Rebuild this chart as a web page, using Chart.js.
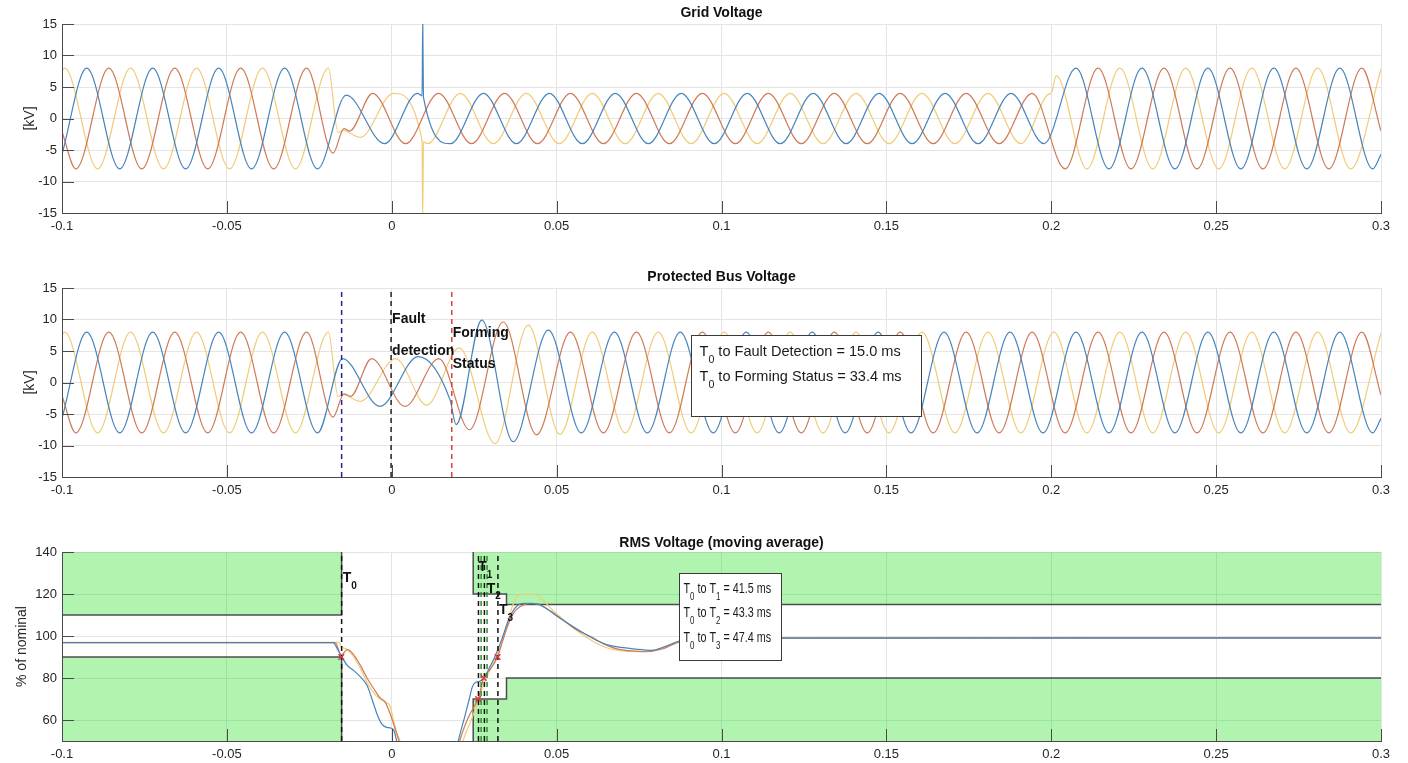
<!DOCTYPE html>
<html>
<head>
<meta charset="utf-8">
<title>Grid / Protected Bus / RMS Voltage</title>
<script src="https://cdn.jsdelivr.net/npm/chart.js@4.4.1/dist/chart.umd.min.js"></script>
<style>
    html, body { margin: 0; padding: 0; background: #fff; }
    #page { position: relative; width: 1408px; height: 763px; overflow: hidden; }
    #page canvas { position: absolute; left: 0; }
</style>
</head>
<body>
<div id="page">
    <canvas id="chart-grid" width="1408" height="240" style="top:0px"></canvas>
    <canvas id="chart-bus" width="1408" height="240" style="top:264px"></canvas>
    <canvas id="chart-rms" width="1408" height="235" style="top:528px"></canvas>
</div>
<script>
// ---- data ----
const timeTicks = [-0.1, -0.05, 0, 0.05, 0.1, 0.15, 0.2, 0.25, 0.3];
const kvTicks = [-15, -10, -5, 0, 5, 10, 15];
const rmsTicks = [60, 80, 100, 120, 140];

// phase voltages: [time s, kV] at each peak / trough, the library draws the curve between them
const preFaultA = [[-0.1, -5.7], [-0.0925, 8], [-0.0825, -8], [-0.0725, 8], [-0.0625, -8], [-0.0525, 8], [-0.0425, -8], [-0.0325, 8], [-0.0225, -8]];
const preFaultB = [[-0.1, -2.1], [-0.0958, -8], [-0.0858, 8], [-0.0758, -8], [-0.0658, 8], [-0.0558, -8], [-0.0458, 8], [-0.0358, -8], [-0.0258, 8]];
const preFaultC = [[-0.1, 7.7], [-0.0992, 8], [-0.0892, -8], [-0.0792, 8], [-0.0692, -8], [-0.0592, 8], [-0.0492, -8], [-0.0392, 8], [-0.0292, -8], [-0.0192, 8]];

const gridPhaseA = preFaultA.concat([
    [-0.0138, 3.7], [-0.0022, -4], [0.0078, 4], [0.0092, 3.6], [0.0094, 16], [0.0096, 3.4], [0.0178, -4], [0.0278, 4],
    [0.0378, -4], [0.0478, 4], [0.0578, -4], [0.0678, 4], [0.0778, -4], [0.0878, 4], [0.0978, -4], [0.1078, 4],
    [0.1178, -4], [0.1278, 4], [0.1378, -4], [0.1478, 4], [0.1578, -4], [0.1678, 4], [0.1778, -4], [0.1878, 4],
    [0.1978, -4], [0.2075, 8], [0.2175, -8], [0.2275, 8], [0.2375, -8], [0.2475, 8], [0.2575, -8], [0.2675, 8],
    [0.2775, -8], [0.2875, 8], [0.2975, -8], [0.3, -5.7]
]);
const gridPhaseB = preFaultB.concat([
    [-0.0178, -5.5], [-0.0145, -1.6], [-0.0128, -2], [-0.0058, 4], [0.0042, -4], [0.0142, 4], [0.0242, -4], [0.0342, 4],
    [0.0442, -4], [0.0542, 4], [0.0642, -4], [0.0742, 4], [0.0842, -4], [0.0942, 4], [0.1042, -4], [0.1142, 4],
    [0.1242, -4], [0.1342, 4], [0.1442, -4], [0.1542, 4], [0.1642, -4], [0.1742, 4], [0.1842, -4], [0.1942, 4],
    [0.2042, -8], [0.2142, 8], [0.2242, -8], [0.2342, 8], [0.2442, -8], [0.2542, 8], [0.2642, -8], [0.2742, 8],
    [0.2842, -8], [0.2942, 8], [0.3, -2]
]);
const gridPhaseC = preFaultC.concat([
    [-0.0163, -2.2], [-0.0148, -1.9], [-0.0095, -3], [0.0005, 4], [0.0092, -3.5], [0.0094, -16], [0.0096, -3.7], [0.0108, -4],
    [0.0208, 4], [0.0308, -4], [0.0408, 4], [0.0508, -4], [0.0608, 4], [0.0708, -4], [0.0808, 4], [0.0908, -4],
    [0.1008, 4], [0.1108, -4], [0.1208, 4], [0.1308, -4], [0.1408, 4], [0.1508, -4], [0.1608, 4], [0.1708, -4],
    [0.1808, 4], [0.1908, -4], [0.1985, 3.6], [0.2002, 4.3], [0.2015, 6.8], [0.2108, -8], [0.2208, 8], [0.2308, -8],
    [0.2408, 8], [0.2508, -8], [0.2608, 8], [0.2708, -8], [0.2808, 8], [0.2908, -8], [0.3, 7.8]
]);

const busPhaseA = preFaultA.concat([
    [-0.0149, 3.8], [-0.0036, -3.8], [0.008, 4.1], [0.0177, -2.8], [0.0195, -6.7], [0.0273, 9.9], [0.0368, -9.4], [0.0475, 8.3],
    [0.0575, -8], [0.0675, 8], [0.0775, -8], [0.0875, 8], [0.0975, -8], [0.1075, 8], [0.1175, -8], [0.1275, 8],
    [0.1375, -8], [0.1475, 8], [0.1575, -8], [0.1675, 8], [0.1775, -8], [0.1875, 8], [0.1975, -8], [0.2075, 8],
    [0.2175, -8], [0.2275, 8], [0.2375, -8], [0.2475, 8], [0.2575, -8], [0.2675, 8], [0.2775, -8], [0.2875, 8],
    [0.2975, -8], [0.3, -5.7]
]);
const busPhaseB = preFaultB.concat([
    [-0.0178, -5.5], [-0.0145, -1.8], [-0.0125, -2.2], [-0.0061, 3.8], [0.004, -3.8], [0.0143, 3.8], [0.0236, -7.5], [0.0338, 9.6],
    [0.0439, -8.3], [0.0542, 8], [0.0642, -8], [0.0742, 8], [0.0842, -8], [0.0942, 8], [0.1042, -8], [0.1142, 8],
    [0.1242, -8], [0.1342, 8], [0.1442, -8], [0.1542, 8], [0.1642, -8], [0.1742, 8], [0.1842, -8], [0.1942, 8],
    [0.2042, -8], [0.2142, 8], [0.2242, -8], [0.2342, 8], [0.2442, -8], [0.2542, 8], [0.2642, -8], [0.2742, 8],
    [0.2842, -8], [0.2942, 8], [0.3, -2]
]);
const busPhaseC = preFaultC.concat([
    [-0.0163, -2.2], [-0.0148, -1.9], [-0.0095, -3], [0.0012, 3.8], [0.0106, -3.6], [0.0205, 5.5], [0.0313, -9.7], [0.0414, 9.1],
    [0.051, -8.2], [0.0608, 8], [0.0708, -8], [0.0808, 8], [0.0908, -8], [0.1008, 8], [0.1108, -8], [0.1208, 8],
    [0.1308, -8], [0.1408, 8], [0.1508, -8], [0.1608, 8], [0.1708, -8], [0.1808, 8], [0.1908, -8], [0.2008, 8],
    [0.2108, -8], [0.2208, 8], [0.2308, -8], [0.2408, 8], [0.2508, -8], [0.2608, 8], [0.2708, -8], [0.2808, 8],
    [0.2908, -8], [0.3, 7.8]
]);

// RMS (% of nominal), values below 50 are outside the axes
const rmsPhaseA = [
    [-0.1, 96.8], [-0.0178, 96.8], [-0.0162, 93], [-0.0153, 90.5], [-0.0135, 86], [-0.0115, 83.5], [-0.0095, 80.5],
    [-0.0075, 76.5], [-0.006, 70], [-0.0045, 63], [-0.003, 58], [-0.0015, 56.5], [0.0005, 55.5], [0.0015, 50],
    [0.003, 40], [0.019, 40], [0.0202, 50], [0.0222, 62], [0.0235, 70], [0.0245, 76], [0.0255, 78], [0.0268, 78.5],
    [0.028, 80], [0.0295, 84.5], [0.0315, 91], [0.0335, 99], [0.0355, 108], [0.0375, 113.5], [0.04, 115.5],
    [0.044, 115.3], [0.047, 113], [0.0505, 109], [0.054, 105.5], [0.058, 101.5], [0.062, 98], [0.066, 95.5],
    [0.07, 94.5], [0.0745, 93.6], [0.079, 93.2], [0.083, 95], [0.087, 97.5], [0.091, 98.8], [0.1, 99], [0.3, 99]
];
const rmsPhaseB = [
    [-0.1, 96.8], [-0.0172, 96.8], [-0.0153, 91], [-0.0135, 93.5], [-0.012, 92], [-0.0095, 86], [-0.0075, 80],
    [-0.0055, 75], [-0.0035, 70.5], [-0.002, 68.5], [-0.0005, 63], [0.0012, 55], [0.0022, 50], [0.004, 40],
    [0.019, 40], [0.0206, 50], [0.023, 60.5], [0.0257, 68.4], [0.0262, 70], [0.0279, 80], [0.03, 84.5], [0.0321, 90],
    [0.0335, 97], [0.0352, 105], [0.037, 111], [0.039, 114], [0.042, 115.5], [0.0445, 115], [0.048, 112],
    [0.052, 107.5], [0.056, 103], [0.06, 100], [0.064, 96.5], [0.068, 94], [0.072, 93], [0.077, 92.5], [0.082, 93.8],
    [0.086, 96.5], [0.09, 98.5], [0.095, 99], [0.3, 99.2]
];
const rmsPhaseC = [
    [-0.1, 97], [-0.016, 97], [-0.0153, 95], [-0.0135, 93.5], [-0.0115, 90], [-0.0095, 84.5], [-0.0075, 78],
    [-0.006, 74], [-0.004, 70.5], [-0.002, 68.5], [-0.0005, 66.5], [0.0005, 60], [0.0015, 54], [0.0025, 50],
    [0.004, 40], [0.02, 40], [0.0216, 50], [0.0246, 62], [0.0277, 76.4], [0.03, 84.3], [0.0322, 92], [0.0342, 101],
    [0.036, 111.4], [0.0378, 118.5], [0.04, 120], [0.043, 120], [0.0455, 117.5], [0.049, 112], [0.053, 106.5],
    [0.057, 101.5], [0.061, 97.5], [0.065, 94.5], [0.069, 93], [0.0735, 92.5], [0.078, 92.8], [0.0825, 94.8],
    [0.087, 97.5], [0.091, 98.8], [0.097, 99.2], [0.3, 99.2]
];

// voltage limit envelope (green = not allowed)
const upperLimit = [[-0.1, 110], [-0.0152, 110], [-0.0152, 140], [0.0247, 140], [0.0247, 120], [0.0348, 120], [0.0348, 115], [0.3, 115]];
const lowerLimit = [[-0.1, 90], [-0.0152, 90], [-0.0152, 50], [0.0247, 50], [0.0247, 70], [0.0348, 70], [0.0348, 80], [0.3, 80]];

// event times (s)
const busEvents = [-0.0152, -0.0002, 0.0182];          // T0, fault detection, forming status
const rmsEvents = [-0.0152, 0.0263, 0.0281, 0.0322];   // T0, T1, T2, T3
const rmsCrossings = [[-0.0153, 90], [0.0262, 70], [0.0279, 80], [0.0321, 90]];

// ---- style ----
const colA = 'rgb(72,132,188)';
const colB = 'rgb(206,122,88)';
const colC = 'rgb(240,204,120)';
const gridColor = '#e4e4e4';
const axisColor = '#4a4a4a';
const textColor = '#262626';
const FONT = '"Liberation Sans", Arial, Helvetica, sans-serif';
const tickFont = { family: FONT, size: 13 };

function pts(arr) {
    return arr.map(([x, y]) => ({ x, y }));
}

function waveSet(arr, color) {
    return {
        data: pts(arr),
        borderColor: color,
        borderWidth: 1.2,
        pointRadius: 0,
        cubicInterpolationMode: 'monotone',
        clip: 0,
        order: 5
    };
}

function vline(t, y0, y1, color) {
    return {
        data: [{ x: t, y: y0 }, { x: t, y: y1 }],
        borderColor: color,
        borderWidth: 1.5,
        borderDash: [5, 4],
        pointRadius: 0,
        clip: 0,
        order: 2
    };
}

// draws "T" + subscript digit + text runs
function drawRich(ctx, x, y, parts, size, bold) {
    let cx = x;
    parts.forEach(([txt, sub]) => {
        ctx.font = `${bold ? 'bold ' : ''}${sub ? Math.round(size * 0.72) : size}px ${FONT}`;
        ctx.fillText(txt, cx, sub ? y + size * 0.55 : y);
        cx += ctx.measureText(txt).width;
    });
}

const decorPlugin = {
    id: 'decor',
    afterDatasetsDraw(chart, args, opts) {
        const { ctx, chartArea: area, scales: { x, y } } = chart;
        ctx.save();

        // inward tick marks
        ctx.strokeStyle = axisColor;
        ctx.lineWidth = 1;
        ctx.beginPath();
        timeTicks.forEach(v => {
            const px = Math.round(x.getPixelForValue(v)) + 0.5;
            ctx.moveTo(px, area.bottom);
            ctx.lineTo(px, area.bottom - 12);
        });
        opts.yTicks.forEach(v => {
            const py = Math.round(y.getPixelForValue(v)) + 0.5;
            ctx.moveTo(area.left, py);
            ctx.lineTo(area.left + 12, py);
        });
        ctx.stroke();

        // text labels placed in data coordinates
        ctx.fillStyle = '#111';
        ctx.textBaseline = 'middle';
        ctx.textAlign = 'left';
        (opts.labels || []).forEach(l => {
            drawRich(ctx, x.getPixelForValue(l.x) + 1, y.getPixelForValue(l.y), l.parts, l.size, true);
        });

        // annotation box
        const box = opts.box;
        if (box) {
            const bx0 = Math.round(x.getPixelForValue(box.x0)) + 0.5;
            const bx1 = Math.round(x.getPixelForValue(box.x1)) + 0.5;
            const by0 = Math.round(y.getPixelForValue(box.y0)) + 0.5;
            const by1 = Math.round(y.getPixelForValue(box.y1)) + 0.5;
            ctx.fillStyle = '#fff';
            ctx.fillRect(bx0, by0, bx1 - bx0, by1 - by0);
            ctx.strokeStyle = '#3a3a3a';
            ctx.strokeRect(bx0, by0, bx1 - bx0, by1 - by0);
            ctx.fillStyle = '#1a1a1a';
            box.lines.forEach((parts, i) => {
                ctx.save();
                ctx.translate(bx0 + box.padLeft, by0 + box.firstLine + i * box.lineGap);
                ctx.scale(box.squeeze, 1);
                drawRich(ctx, 0, 0, parts, box.size, false);
                ctx.restore();
            });
        }
        ctx.restore();
    },
    afterDraw(chart, args, opts) {
        const { ctx, chartArea: area } = chart;
        ctx.save();
        ctx.fillStyle = '#111';
        ctx.textAlign = 'center';
        ctx.textBaseline = 'middle';
        ctx.font = `bold 14px ${FONT}`;
        ctx.fillText(opts.title, (area.left + area.right) / 2, area.top - opts.titleGap);

        ctx.fillStyle = textColor;
        ctx.font = `14px ${FONT}`;
        ctx.translate(opts.ylabelX, (area.top + area.bottom) / 2);
        ctx.rotate(-Math.PI / 2);
        ctx.fillText(opts.ylabel, 0, 0);
        ctx.restore();
    }
};

function panelOptions(yMin, yMax, yTicks, xHeight, decor) {
    return {
        responsive: false,
        animation: false,
        devicePixelRatio: 1,
        layout: { padding: { left: 0, right: 27, top: 24, bottom: 0 } },
        plugins: {
            legend: { display: false },
            tooltip: { enabled: false },
            decor: decor
        },
        scales: {
            x: {
                type: 'linear',
                min: -0.1,
                max: 0.3,
                afterBuildTicks: (s) => { s.ticks = timeTicks.map(v => ({ value: v })); },
                afterFit: (s) => { s.height = xHeight; },
                grid: { color: gridColor, drawTicks: false },
                border: { color: axisColor, z: 1 },
                ticks: {
                    padding: 6,
                    color: textColor,
                    font: tickFont,
                    autoSkip: false,
                    maxRotation: 0,
                    callback: (v) => String(+v.toFixed(2))
                }
            },
            y: {
                type: 'linear',
                min: yMin,
                max: yMax,
                afterBuildTicks: (s) => { s.ticks = yTicks.map(v => ({ value: v })); },
                afterFit: (s) => { s.width = 62; },
                grid: { color: gridColor, drawTicks: false },
                border: { color: axisColor, z: 1 },
                ticks: { padding: 5, color: textColor, font: tickFont }
            }
        }
    };
}

// Chart: Grid Voltage
new Chart(document.getElementById('chart-grid'), {
    type: 'line',
    data: {
        datasets: [
            waveSet(gridPhaseA, colA),
            waveSet(gridPhaseB, colB),
            waveSet(gridPhaseC, colC)
        ]
    },
    options: panelOptions(-15, 15, kvTicks, 27, {
        title: 'Grid Voltage', titleGap: 11, ylabel: '[kV]', ylabelX: 30, yTicks: kvTicks
    }),
    plugins: [decorPlugin]
});

// Chart: Protected Bus Voltage
new Chart(document.getElementById('chart-bus'), {
    type: 'line',
    data: {
        datasets: [
            vline(busEvents[0], -15, 15, '#23239a'),
            vline(busEvents[1], -15, 15, '#222222'),
            vline(busEvents[2], -15, 15, '#d9443c'),
            waveSet(busPhaseA, colA),
            waveSet(busPhaseB, colB),
            waveSet(busPhaseC, colC)
        ]
    },
    options: panelOptions(-15, 15, kvTicks, 27, {
        title: 'Protected Bus Voltage', titleGap: 11, ylabel: '[kV]', ylabelX: 30, yTicks: kvTicks,
        labels: [
            { x: busEvents[1], y: 10.0, parts: [['Fault', 0]], size: 14 },
            { x: busEvents[1], y: 4.9, parts: [['detection', 0]], size: 14 },
            { x: busEvents[2], y: 7.9, parts: [['Forming', 0]], size: 14 },
            { x: busEvents[2], y: 2.9, parts: [['Status', 0]], size: 14 }
        ],
        box: {
            x0: 0.0909, x1: 0.1606, y0: 7.54, y1: -5.27,
            padLeft: 8, firstLine: 16, lineGap: 25, size: 15, squeeze: 0.97,
            lines: [
                [['T', 0], ['0', 1], [' to Fault Detection = 15.0 ms', 0]],
                [['T', 0], ['0', 1], [' to Forming Status = 33.4 ms', 0]]
            ]
        }
    }),
    plugins: [decorPlugin]
});

// Chart: RMS Voltage (moving average)
const limitStyle = {
    borderColor: '#4d4d4d',
    borderWidth: 1.5,
    pointRadius: 0,
    backgroundColor: 'rgba(0,220,0,0.31)',
    clip: 0,
    order: 10,
    segment: {
        borderColor: (c) => (c.p0.parsed.y === c.p1.parsed.y && (c.p0.parsed.y === 140 || c.p0.parsed.y === 50)) ? 'rgba(0,0,0,0)' : undefined
    }
};

new Chart(document.getElementById('chart-rms'), {
    type: 'line',
    data: {
        datasets: [
            { type: 'line', data: pts(rmsCrossings), showLine: false, pointStyle: 'crossRot', pointRadius: 4,
              pointBorderColor: '#e0353a', pointBorderWidth: 1.5, clip: 0, order: 1 },
            vline(rmsEvents[0], 50, 140, '#111111'),
            vline(rmsEvents[1], 50, 140, '#111111'),
            vline(rmsEvents[1] + 0.0008, 50, 140, '#2f8f2f'),
            vline(rmsEvents[2], 50, 140, '#111111'),
            vline(rmsEvents[2] + 0.0008, 50, 140, '#2f8f2f'),
            vline(rmsEvents[3], 50, 140, '#111111'),
            waveSet(rmsPhaseA, colA),
            waveSet(rmsPhaseB, colB),
            waveSet(rmsPhaseC, colC),
            Object.assign({ data: pts(upperLimit), fill: 'end' }, limitStyle),
            Object.assign({ data: pts(lowerLimit), fill: 'start' }, limitStyle)
        ]
    },
    options: panelOptions(50, 140, rmsTicks, 22, {
        title: 'RMS Voltage (moving average)', titleGap: 9, ylabel: '% of nominal', ylabelX: 22, yTicks: rmsTicks,
        labels: [
            { x: rmsEvents[0], y: 127.4, parts: [['T', 0], ['0', 1]], size: 14 },
            { x: rmsEvents[1] - 0.0004, y: 132.8, parts: [['T', 0], ['1', 1]], size: 14 },
            { x: rmsEvents[2] + 0.0004, y: 122.5, parts: [['T', 0], ['2', 1]], size: 14 },
            { x: rmsEvents[3], y: 112.2, parts: [['T', 0], ['3', 1]], size: 14 }
        ],
        box: {
            x0: 0.0871, x1: 0.1179, y0: 129.8, y1: 88.8,
            padLeft: 4, firstLine: 15, lineGap: 24.5, size: 15, squeeze: 0.72,
            lines: [
                [['T', 0], ['0', 1], [' to T', 0], ['1', 1], [' = 41.5 ms', 0]],
                [['T', 0], ['0', 1], [' to T', 0], ['2', 1], [' = 43.3 ms', 0]],
                [['T', 0], ['0', 1], [' to T', 0], ['3', 1], [' = 47.4 ms', 0]]
            ]
        }
    }),
    plugins: [decorPlugin]
});
</script>
</body>
</html>
